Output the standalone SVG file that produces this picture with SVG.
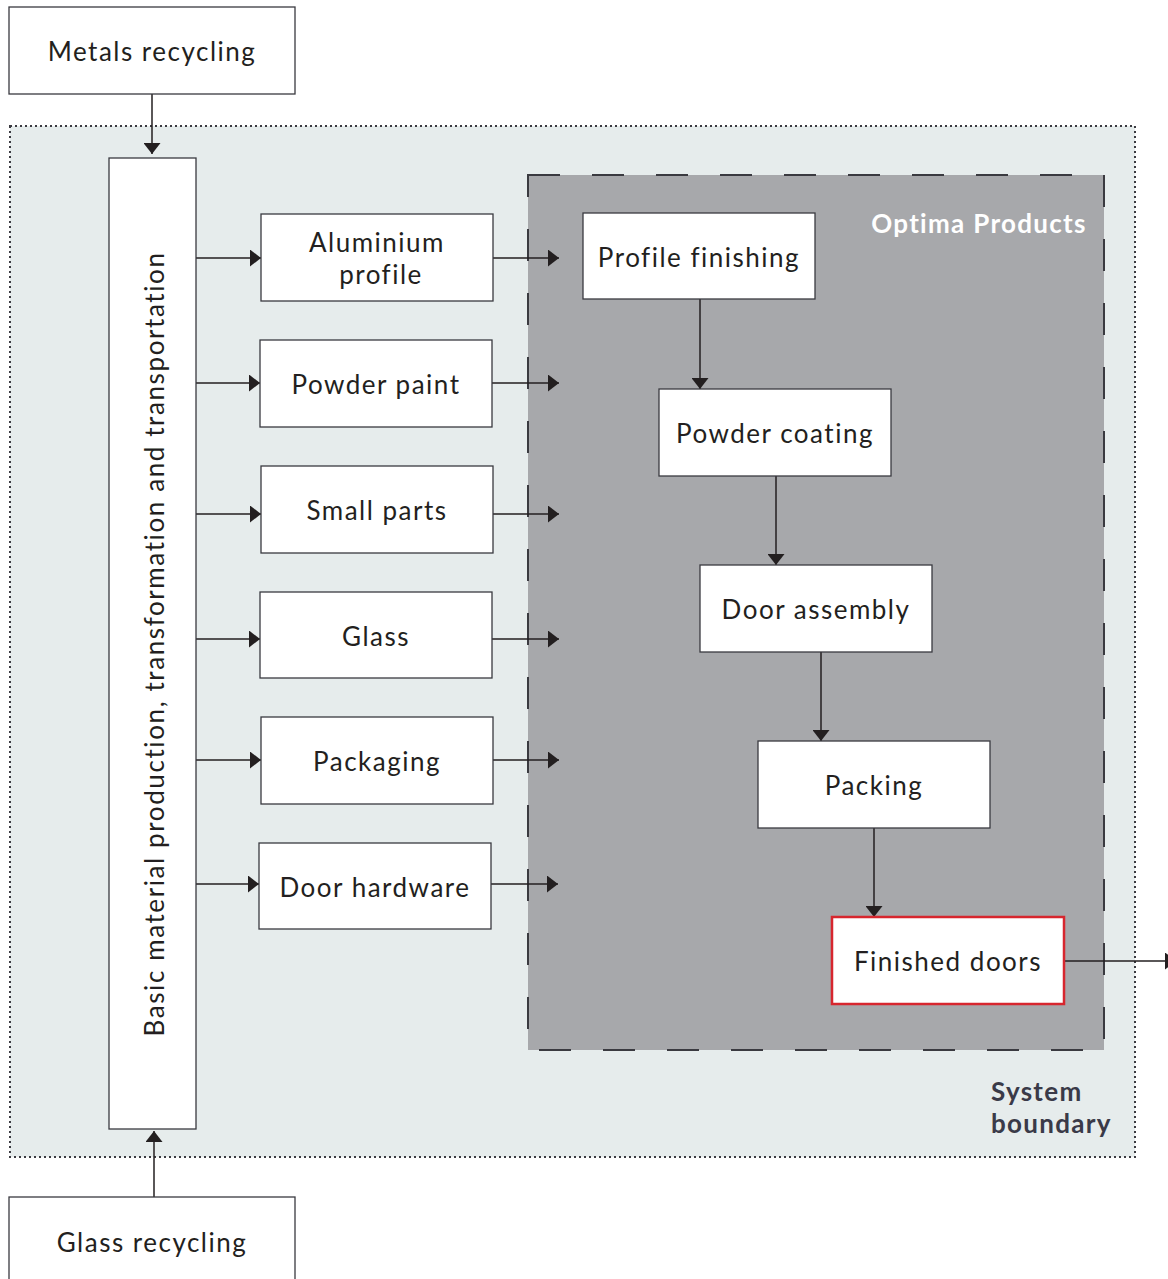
<svg xmlns="http://www.w3.org/2000/svg" width="1168" height="1279" viewBox="0 0 1168 1279">
<style>
.box{fill:#fff;stroke:#3a3a40;stroke-width:1.3}
.t{font-family:Lato,"Noto Sans",sans-serif;font-size:26px;fill:#231f20;text-anchor:middle;letter-spacing:1.5px}
.c{stroke:#231f20;stroke-width:1.5;fill:none}
.b{font-family:Lato,"Noto Sans",sans-serif;font-size:26px;font-weight:bold;letter-spacing:1.3px}
</style>
<defs>
<marker id="ah" viewBox="0 0 11 17" refX="11" refY="8.5" markerWidth="11" markerHeight="17" markerUnits="userSpaceOnUse" orient="auto">
<path d="M0,0 L11,8.5 L0,17 z" fill="#231f20"/>
</marker>
</defs>
<rect width="1168" height="1279" fill="#fff"/>
<g id="system-boundary">
<rect x="10" y="126" width="1125" height="1031" fill="#e6ecec" stroke="#3a3a40" stroke-width="2" stroke-dasharray="2,3"/>
<text class="b" x="991" y="1101" fill="#3a3a48">System</text>
<text class="b" x="991" y="1133" fill="#3a3a48">boundary</text>
</g>
<g id="optima-products">
<rect x="528" y="175" width="576" height="875" fill="#a7a8ab" stroke="#3a3a40" stroke-width="2" stroke-dasharray="32,32"/>
<text class="b" x="979" y="233" fill="#fff" text-anchor="middle">Optima Products</text>
</g>
<g id="connectors">
<line class="c" x1="152" y1="94" x2="152" y2="154" marker-end="url(#ah)"/>
<line class="c" x1="154" y1="1197" x2="154" y2="1131" marker-end="url(#ah)"/>
<line class="c" x1="196" y1="258" x2="261" y2="258" marker-end="url(#ah)"/>
<line class="c" x1="196" y1="383" x2="260" y2="383" marker-end="url(#ah)"/>
<line class="c" x1="196" y1="514" x2="261" y2="514" marker-end="url(#ah)"/>
<line class="c" x1="196" y1="639" x2="260" y2="639" marker-end="url(#ah)"/>
<line class="c" x1="196" y1="760" x2="261" y2="760" marker-end="url(#ah)"/>
<line class="c" x1="196" y1="884" x2="259" y2="884" marker-end="url(#ah)"/>
<line class="c" x1="493" y1="258" x2="559" y2="258" marker-end="url(#ah)"/>
<line class="c" x1="492" y1="383" x2="559" y2="383" marker-end="url(#ah)"/>
<line class="c" x1="493" y1="514" x2="559" y2="514" marker-end="url(#ah)"/>
<line class="c" x1="492" y1="639" x2="559" y2="639" marker-end="url(#ah)"/>
<line class="c" x1="493" y1="760" x2="559" y2="760" marker-end="url(#ah)"/>
<line class="c" x1="491" y1="884" x2="558" y2="884" marker-end="url(#ah)"/>
<line class="c" x1="700" y1="299" x2="700" y2="389" marker-end="url(#ah)"/>
<line class="c" x1="776" y1="476" x2="776" y2="565" marker-end="url(#ah)"/>
<line class="c" x1="821" y1="652" x2="821" y2="741" marker-end="url(#ah)"/>
<line class="c" x1="874" y1="828" x2="874" y2="917" marker-end="url(#ah)"/>
<line class="c" x1="1064" y1="961" x2="1176" y2="961" marker-end="url(#ah)"/>
</g>
<g id="metals-recycling">
<rect class="box" x="9" y="7" width="286" height="87"/>
<text class="t" x="152" y="61">Metals recycling</text>
</g>
<g id="glass-recycling">
<rect class="box" x="9" y="1197" width="286" height="100"/>
<text class="t" x="152" y="1252">Glass recycling</text>
</g>
<g id="basic-material">
<rect class="box" x="109" y="158" width="87" height="971"/>
<text class="t" transform="translate(164,644) rotate(-90)" x="0" y="0" style="letter-spacing:1.6px">Basic material production, transformation and transportation</text>
</g>
<g id="aluminium-profile">
<rect class="box" x="261" y="214" width="232" height="87"/>
<text class="t" x="377" y="252">Aluminium</text>
<text class="t" x="381" y="284">profile</text>
</g>
<g id="powder-paint">
<rect class="box" x="260" y="340" width="232" height="87"/>
<text class="t" x="376" y="394">Powder paint</text>
</g>
<g id="small-parts">
<rect class="box" x="261" y="466" width="232" height="87"/>
<text class="t" x="377" y="520">Small parts</text>
</g>
<g id="glass">
<rect class="box" x="260" y="592" width="232" height="86"/>
<text class="t" x="376" y="646">Glass</text>
</g>
<g id="packaging">
<rect class="box" x="261" y="717" width="232" height="87"/>
<text class="t" x="377" y="771">Packaging</text>
</g>
<g id="door-hardware">
<rect class="box" x="259" y="843" width="232" height="86"/>
<text class="t" x="375" y="897">Door hardware</text>
</g>
<g id="profile-finishing">
<rect class="box" x="583" y="213" width="232" height="86"/>
<text class="t" x="699" y="267">Profile finishing</text>
</g>
<g id="powder-coating">
<rect class="box" x="659" y="389" width="232" height="87"/>
<text class="t" x="775" y="443">Powder coating</text>
</g>
<g id="door-assembly">
<rect class="box" x="700" y="565" width="232" height="87"/>
<text class="t" x="816" y="619">Door assembly</text>
</g>
<g id="packing">
<rect class="box" x="758" y="741" width="232" height="87"/>
<text class="t" x="874" y="795">Packing</text>
</g>
<g id="finished-doors">
<rect x="832" y="917" width="232" height="87" fill="#fff" stroke="#d7262e" stroke-width="2.5"/>
<text class="t" x="948" y="971">Finished doors</text>
</g>
</svg>
